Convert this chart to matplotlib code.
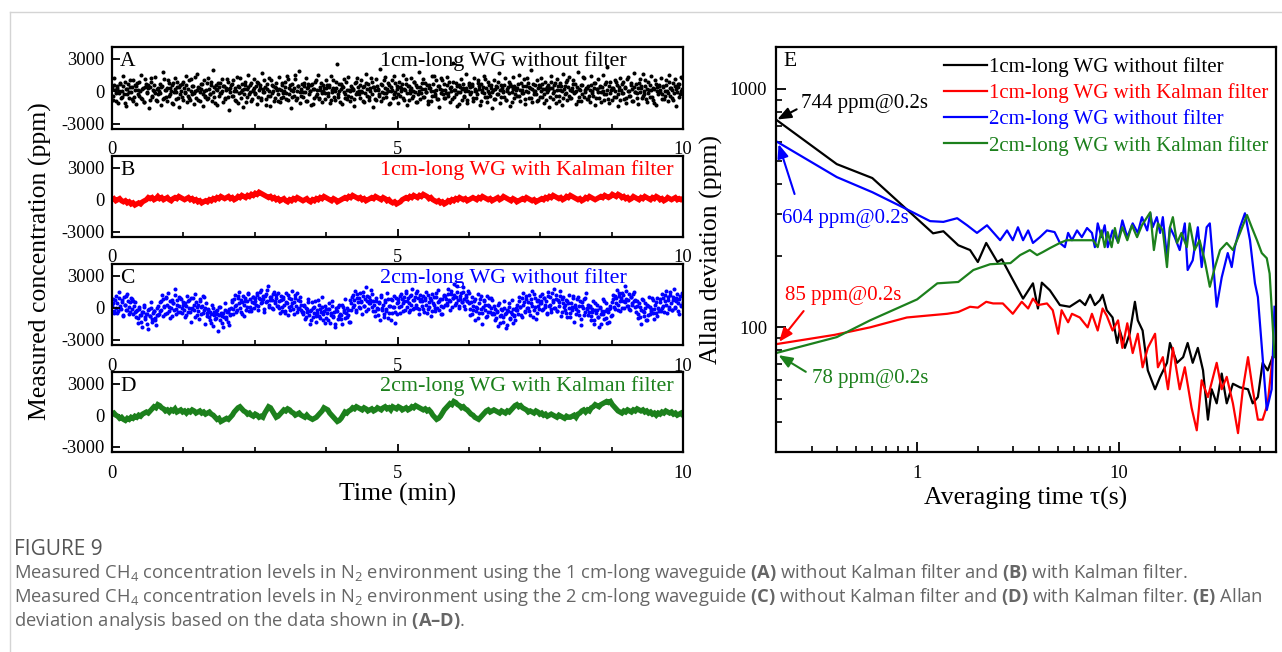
import numpy as np
import matplotlib
matplotlib.use('Agg')
import matplotlib.pyplot as plt
from matplotlib.ticker import MultipleLocator, FuncFormatter, LogLocator, NullFormatter
from matplotlib.lines import Line2D

plt.rcParams['font.family'] = 'Liberation Serif'
plt.rcParams['axes.unicode_minus'] = False
plt.rcParams['mathtext.fontset'] = 'custom'
plt.rcParams['mathtext.rm'] = 'Open Sans'
plt.rcParams['mathtext.bf'] = 'Open Sans:bold'

W, H = 1282, 652
GREEN = '#1c801c'

# ---- panel A : 1cm WG without filter (x100 ppm), two interleaved sample sets ----
conc_a = [
    3, -8, 12, -2, 5, -11, 0, 7, -5, 14, -3, 9, -14, 2, -6, 10, -1, 4, -9, 6,
    -12, 8, 1, -4, 15, -7, 3, -10, 11, -2, 6, -16, 4, 9, -5, 0, 13, -8, 2, -3,
    7, -13, 5, 18, -6, 1, -9, 10, -4, 3, -11, 8, -1, 12, -7, 4, -15, 6, 0, -5,
    9, -2, 14, -10, 2, -6, 11, -3, 5, -12, 0, 16, -8, 3, -1, 7, -14, 10, -4, 1,
    -7, 12, -3, 6, -9, 20, -5, 2, -13, 8, 4, -2, 11, -10, 5, -6, 1, 9, -17, 3,
    6, -4, 10, -8, 0, 13, -11, 4, -1, 7, -15, 2, 9, -5, 15, -3, 6, -9, 1, 11,
    -2, 5, -12, 8, 3, -6, 17, -1, 10, -7, 2, -4, 12, -14, 6, 0, -9, 4, 8, -3,
    13, -10, 1, 6, -5, 9, -2, 14, -8, 3, -16, 7, 0, -4, 11, -6, 5, 19, -11, 2,
    -5, 8, -1, 12, -9, 4, 0, -13, 7, 2, -6, 10, -3, 15, -7, 1, -10, 6, 3, -2,
    10, -4, 6, -11, 14, -1, 3, -8, 9, 25, -5, 0, 7, -12, 4, 11, -3, -7, 13, 1,
    -9, 5, 2, -14, 8, -3, 12, 0, -6, 10, -1, 4, -10, 16, -4, 7, -8, 3, 9, -15,
    4, -7, 11, 1, -3, 21, -9, 6, -2, 13, -5, 2, 8, -12, 0, 10, -6, 14, -1, 5,
    -11, 9, -4, 3, 15, -8, 1, 7, -13, 5, -2, 12, -6, 0, 9, -10, 4, -3, 18, -7,
    2, 11, -5, 8, -1, -12, 6, 3, -9, 14, 0, -4, 10, -7, 5, -15, 12, 1, -3, 7,
    -6, 13, -2, 9, -10, 4, 26, -5, 1, 8, -14, 6, -1, 11, -8, 3, -4, 16, -11, 0,
    8, -3, 5, -9, 12, 0, -6, 10, 2, -13, 7, -1, 14, -5, 3, -10, 9, -2, 6, -16,
    1, 10, -7, 4, -3, 17, -11, 6, 0, -5, 12, -8, 2, 9, -14, 5, -1, 13, -6, 3,
    -4, 7, 15, -9, 1, -2, 11, -12, 5, 8, -6, 3, 20, -10, 0, 6, -3, 10, -8, 4,
    12, -5, 2, -11, 9, -1, 6, -15, 3, 14, -7, 0, 8, -4, 11, -9, 1, 5, -13, 16,
    -3, 9, -8, 4, 13, -6, 0, 10, -2, 7, -12, 18, -5, 1, -9, 6, 12, -1, 3, -7,
    5, -10, 14, 0, -4, 8, -13, 2, 11, -6, 4, -1, 15, -8, 7, -3, 22, -11, 9, 1,
    -8, 3, 10, -5, 6, -14, 1, 12, -2, 9, -7, 4, -11, 13, 0, -4, 8, -9, 17, -1,
    7, -2, -12, 11, 3, -6, 16, -3, 5, -10, 9, 1, -5, 14, -8, 2, 10, -13, 4, 6,
    -1, 12, -7, 5, -4, 10, 0, -9, 15, 3, -6, 8, -2, 11, -14, 4, 7, -3, 13, 2,
]
conc_a2 = [
    -4, 6, 1, -9, 3, -2, 8, -6, 0, 5, -11, 2, -3, 7, -1, 4, -7, 10, -5, 1,
    5, -3, 9, 0, -6, 2, -10, 4, 7, -1, 3, -8, 12, -4, 1, 6, -2, -9, 3, 0,
    -2, 4, -7, 11, 1, -5, 3, 8, -3, 0, 6, -12, 2, -1, 9, -6, 4, -3, 7, -8,
    3, -1, 6, -4, 10, -8, 0, 5, -2, 13, -6, 1, 4, -9, 2, 7, -3, 0, -5, 8,
    -6, 2, -3, 9, -1, 4, -11, 6, 1, -4, 8, -2, 0, 5, -7, 3, 11, -5, 2, -1,
    7, -4, 0, 3, -9, 5, -2, 12, -6, 1, -3, 6, -10, 2, 4, -1, 8, -7, 0, 3,
    -3, 9, -5, 1, 6, -8, 2, -1, 4, -13, 7, 0, -4, 10, -2, 5, -6, 3, 1, -9,
    2, -6, 8, -2, 0, 4, -7, 11, -3, 6, 1, -5, 3, 15, -8, 0, 5, -1, -4, 7,
    -1, 5, -9, 3, 7, -3, 0, 6, -12, 2, 9, -4, 1, -6, 4, 8, -2, 0, -7, 3,
    6, -2, 4, -8, 1, 10, -5, 0, 3, -3, 7, -10, 2, 5, -1, -6, 9, 1, -4, 0,
    -5, 3, 1, -7, 9, -1, 4, -3, 6, 0, -9, 5, -2, 8, 2, -5, 0, 12, -3, 4,
    1, -8, 5, 2, -4, 7, -1, -6, 10, 3, -2, 0, 6, -11, 4, 1, -3, 8, -5, 2,
    -3, 4, 0, 7, -6, 2, 11, -2, 5, -8, 1, 3, -4, 9, -1, 6, -10, 0, 4, -2,
    8, -5, 2, -1, 6, -9, 3, 0, -4, 7, 14, -3, 1, -7, 5, 2, -2, 10, -6, 1,
    -2, 6, -4, 3, 0, -7, 9, 1, -3, 5, -1, -12, 4, 2, 7, -5, 0, 3, -8, 6,
    4, -1, 7, -6, 2, 0, -3, 8, 5, -9, 1, 4, -2, 11, -5, 0, 6, -4, 3, -1,
    -7, 2, 5, -3, 9, 1, -5, 3, -1, 6, -8, 0, 4, -2, 7, -10, 2, 5, -3, 1,
    3, -4, 1, 8, -2, 5, -7, 0, 12, -1, 4, -6, 2, 7, -3, 0, -9, 3, 6, -5,
    0, 7, -3, 2, -8, 4, 1, -5, 9, 3, -2, 6, -11, 1, 5, -4, 8, 0, -6, 2,
    5, -2, 10, -4, 1, -6, 3, 7, -1, 0, 4, -9, 2, 6, -3, 13, -5, 1, 3, -7,
    -4, 1, 6, -2, 3, 8, -6, 2, -1, 5, -10, 4, 0, -3, 9, 1, -7, 5, -2, 3,
    2, -5, 0, 9, -3, 4, -8, 1, 7, -2, 3, -6, 11, 0, -4, 6, 2, -9, 4, -1,
    -6, 3, 8, -1, 5, -4, 0, 10, -7, 2, -2, 6, 1, -5, 3, -11, 7, 0, -3, 5,
    1, -3, 4, -7, 0, 6, -2, 9, -4, 3, 1, -8, 5, 2, -1, 7, -5, 0, 12, -2,
]

# ---- panel B : 1cm WG with Kalman filter (x100 ppm) ----
conc_b = [
    0, 1, -1, 0, 1, -1, -2, -1, -3, -2, -4, -3, -5, -4, -3, -4, -2, -1, 0, 2,
    1, 2, 0, 1, 3, 1, 2, 0, 1, 2, 0, -1, 1, 2, 1, 3, 2, 1, 0, 1,
    2, 0, 1, -1, 0, -2, -1, -3, -2, -1, -2, 0, -1, 1, 0, 2, 1, 3, 2, 1,
    2, 3, 1, 2, 0, 1, 3, 2, 4, 3, 2, 4, 3, 5, 4, 6, 5, 7, 6, 5,
    4, 3, 2, 3, 1, 2, 0, 1, -1, 0, 1, -1, -2, 0, -1, 1, 0, 2, 1, 0,
    -1, 0, 1, -1, -2, 0, -1, 1, 0, 2, 1, 3, 2, 1, 0, -1, 1, 0, -2, -1,
    0, 1, 2, 1, 3, 2, 4, 3, 2, 1, 2, 0, 1, -1, 0, 1, 2, 1, 3, 2,
    1, 0, 2, 1, -1, 0, -2, -3, -2, -4, -3, -2, 0, 1, 2, 1, 3, 2, 4, 3,
    2, 4, 3, 5, 4, 3, 1, 2, 0, -1, -2, -1, -3, -2, -4, -3, -1, -2, 0, -1,
    1, 0, 2, 1, 0, 1, -1, 0, 1, 2, 1, 0, 2, 1, 3, 2, 1, 0, 1, -1,
    0, 1, 2, 0, 1, 3, 2, 1, 0, -1, 1, 0, -2, -1, 0, 1, 0, 2, 1, 0,
    -1, 0, -2, -1, 0, 1, 0, 2, 1, 3, 2, 4, 3, 2, 1, 2, 0, 1, 3, 2,
    4, 3, 2, 1, 0, 1, -1, 0, 2, 1, 3, 2, 1, 0, 1, 2, 3, 2, 4, 3,
    2, 3, 5, 4, 3, 5, 4, 2, 3, 1, 2, 0, 1, 3, 2, 1, 0, 2, 1, 3,
    2, 1, 0, 2, 1, 3, 2, 0, 1, -1, 0, 2, 1, 0, 1, 2, 0, 1, 0, 1,
]

# ---- panel C : 2cm WG without filter (x100 ppm), two interleaved sample sets ----
conc_c = [
    2, 8, -5, 11, 4, -3, 15, 0, 7, -8, 10, 3, -2, 13, -6, 5, 9, -1, 6, -4,
    -9, -2, -14, 1, -7, -18, -4, 3, -11, -6, -20, -1, -8, 5, -13, -3, -10, -16, 0, -7,
    -3, 6, 12, -8, 2, 9, -5, 14, 1, -10, 7, 4, -2, 18, -6, 3, 10, -4, 8, 0,
    5, -9, 2, 11, -4, 7, -13, 0, 9, -2, 13, -7, 3, -11, 6, 1, -5, 10, -15, 4,
    -8, -1, -12, -6, 3, -17, -4, -10, -2, -22, -7, 1, -14, -5, -9, 4, -11, -3, -16, -6,
    0, 7, -6, 12, 3, -2, 9, 15, -4, 5, 11, -8, 6, 1, 14, -3, 8, -1, 10, 4,
    9, 3, 14, -2, 8, 17, 5, 11, -4, 13, 6, 20, 1, 10, 7, -1, 15, 4, 12, 2,
    6, -5, 11, 1, 8, -3, 14, 4, -7, 9, 2, 16, -1, 5, 12, -4, 7, 0, 10, -2,
    -6, 3, -11, 0, -4, 8, -15, -2, 5, -9, 1, -13, -5, 7, -8, -1, 10, -12, -3, 2,
    -10, -1, 4, -14, -5, 6, -8, -18, 0, -3, -11, 3, -7, -15, 1, -4, 8, -9, -2, -13,
    7, -2, 12, 3, 16, -4, 9, 1, 14, 5, -6, 11, 2, 19, 6, -1, 10, 4, 13, -3,
    3, -8, 9, -1, 5, -12, 12, 0, -6, 7, -3, 14, -10, 2, 8, -5, 1, 11, -14, 4,
    8, 1, -5, 13, 4, 10, -2, 16, 6, -4, 11, 3, 18, -1, 7, 14, 0, 9, -6, 12,
    2, 11, -4, 7, 15, -1, 5, 9, -8, 13, 3, -3, 10, 0, 17, 6, -6, 8, 1, 12,
    11, 4, 18, 7, -2, 13, 9, 22, 3, 10, 15, 0, 8, 14, 5, 19, 2, 12, 6, 16,
    4, -7, 10, -2, 6, -12, 1, 13, -5, 8, -1, -15, 7, 3, -9, 11, -4, 2, 9, -6,
    -5, 2, -12, -3, -17, 4, -8, -1, -13, 6, -6, -19, -2, 1, -10, -4, 7, -14, -7, 0,
    3, -6, 10, 1, -9, 14, 5, -3, 8, 0, 12, -7, 4, 16, -2, 9, -11, 6, 2, 11,
    6, 13, -1, 9, 3, -6, 15, 2, 10, -4, 7, 18, 0, 12, -3, 5, 11, -8, 8, 4,
    -2, 7, -9, 4, 12, -5, 1, 9, -13, 3, -1, 10, -7, 6, -16, 2, 8, -4, 14, 0,
    -7, 1, -12, -4, 6, -15, -2, 3, -9, -18, 0, -6, 8, -11, -3, 4, -14, -1, 2, -8,
    5, 12, -1, 9, 17, 3, 11, -3, 14, 6, 0, 20, 8, 2, 13, -2, 10, 4, 15, 7,
    -4, 6, -10, 1, -15, 8, -3, -8, 4, -12, 2, 10, -6, -1, 7, -11, 3, -5, 9, -2,
    8, -3, 13, 2, 6, 16, -5, 10, 1, 12, -2, 7, 18, 0, 9, 4, -6, 11, 3, 14,
]
conc_c2 = [
    4, -3, 7, 0, -5, 9, 2, -1, 5, -7, 3, 11, -2, 6, 1, -4, 8, -6, 2, 5,
    -3, -10, -1, -7, -13, -4, 1, -9, -6, -15, -2, -8, 0, -11, -5, -3, -12, -7, 2, -6,
    5, -2, 8, 1, -6, 10, 3, -3, 6, 0, -8, 4, 12, -1, 7, -4, 2, 9, -5, 3,
    -2, 4, -7, 6, 0, -4, 9, -1, 3, -9, 5, 1, -3, 8, -6, 2, 11, -2, 0, -5,
    -2, -9, -4, -14, 0, -7, -11, -3, -6, 1, -12, -5, -8, -18, -2, -9, -4, -13, -1, -7,
    5, -1, 8, 2, -4, 11, 4, 0, 7, -6, 3, 9, -2, 6, 13, 1, -3, 5, 10, 0,
    6, 12, 2, 9, 15, 4, 8, -1, 11, 5, 17, 3, 7, 10, 0, 13, 6, 9, 2, 14,
    0, 7, -3, 10, 3, -5, 5, 12, 1, -2, 8, 4, -6, 9, 2, 14, -1, 6, 3, -4,
    -4, 2, -9, -1, 5, -7, -3, -12, 0, -5, 6, -8, -2, 3, -10, -4, 1, -6, -14, -1,
    -5, -12, -1, -7, 2, -9, -4, -15, -3, 1, -8, -6, -11, 3, -2, -10, -5, 0, -7, -13,
    4, 10, 1, 7, -2, 13, 5, 9, 0, 6, 15, 2, 8, -3, 11, 4, 7, 17, 1, 6,
    -3, 6, 0, -7, 4, 10, -2, 3, -9, 5, -1, 8, -5, 2, -12, 7, 1, -4, 9, -6,
    5, 11, 2, 8, -3, 6, 14, 1, 9, 4, -2, 12, 7, 0, 10, 3, 16, -1, 6, 8,
    6, -1, 9, 3, -5, 12, 1, 7, -3, 4, 10, 0, 14, 5, -2, 8, 2, -6, 11, 3,
    8, 3, 13, 6, 16, 1, 9, 12, 4, 20, 7, 2, 11, 5, 15, 8, -1, 10, 6, 14,
    -1, 5, -6, 2, 8, -3, 0, -10, 4, 11, -5, 1, 6, -2, -8, 3, 9, -4, 0, 7,
    -6, -1, -10, -4, 3, -14, -7, -2, -9, 0, -5, -16, -3, 4, -11, -6, -1, -8, -12, -2,
    -2, 6, 1, -7, 9, 3, -4, 11, 0, 5, -3, 8, 2, -9, 13, 1, -5, 7, -1, 4,
    4, -2, 9, 1, 6, -5, 11, 3, -1, 14, 5, 0, 8, -3, 7, 2, 16, -4, 10, 1,
    3, -5, 6, 0, -9, 4, -2, 11, 1, -6, 8, -3, 2, -11, 5, 0, -7, 9, -1, 3,
    -4, 2, -8, -1, -12, 4, -5, -2, -9, 1, -15, -3, -6, 6, -10, -1, -4, -13, 0, -7,
    8, 1, 11, 4, -2, 14, 6, 9, 0, 12, 5, 16, 2, 7, -1, 10, 3, 13, 6, 1,
    2, -6, 4, -9, -2, 7, -4, 0, -12, 3, -7, 1, -3, 9, -5, -1, 5, -8, 0, -3,
    5, 0, 9, -4, 12, 3, 7, -1, 15, 4, -2, 10, 1, 6, 13, -3, 8, 2, 11, 5,
]

# ---- panel D : 2cm WG with Kalman filter (x100 ppm) ----
conc_d = [
    1, 2, 0, -1, -3, -2, -4, -5, -3, -4, -2, -3, -1, -2, 0, -1, 1, 2, 3, 2,
    4, 6, 8, 7, 10, 9, 7, 6, 4, 5, 3, 5, 4, 6, 3, 4, 5, 3, 4, 2,
    4, 3, 5, 4, 2, 3, 4, 2, 3, 1, 2, 3, 1, 0, -2, -4, -3, -6, -5, -4,
    -3, -4, -2, 0, 3, 5, 7, 8, 6, 4, 3, 1, 2, 0, -1, 1, 0, -2, -1, -2,
    2, 5, 8, 7, 4, 1, -2, -1, 1, 3, 5, 4, 6, 5, 3, 2, 0, 1, 2, 0,
    -1, -2, 0, -2, -3, -4, -3, -2, 0, 2, 4, 7, 6, 5, 2, 0, -2, -4, -6, -5,
    -3, 0, 3, 2, 4, 5, 7, 6, 8, 7, 6, 5, 7, 6, 4, 5, 6, 4, 5, 7,
    6, 5, 7, 8, 6, 7, 5, 8, 7, 6, 8, 7, 5, 6, 7, 5, 6, 8, 7, 9,
    8, 7, 6, 5, 6, 4, 5, 3, 0, -2, -4, -3, -1, 2, 5, 7, 9, 11, 10, 13,
    12, 10, 9, 7, 8, 6, 5, 3, 1, 0, -2, -3, -4, -2, 0, 2, 4, 5, 3, 4,
    5, 4, 3, 2, 4, 3, 2, 4, 3, 5, 7, 9, 10, 8, 9, 7, 6, 5, 3, 4,
    3, 2, 4, 3, 1, 2, 0, 1, -1, 0, 1, 0, -1, -2, 0, -1, -2, -3, -1, -2,
    -2, -1, 0, -2, 1, 2, 4, 5, 3, 5, 4, 7, 8, 10, 9, 8, 10, 11, 12, 13,
    12, 13, 10, 8, 6, 4, 3, 2, 4, 3, 5, 4, 3, 5, 4, 6, 5, 4, 5, 3,
    4, 2, 3, 1, 2, 0, 2, 1, 3, 2, 4, 3, 2, 3, 1, 2, 0, 1, 2, 0,
]

# ---- panel E : Allan deviation ----
tau_k = [0.2, 0.4, 0.6, 1.2, 1.35, 1.6, 1.83, 2.0, 2.2, 2.5, 2.63, 2.95, 3.35, 3.75,
         3.97, 4.15, 4.55, 5.1, 5.7, 6.4, 6.8, 7.2, 7.6, 8.05, 8.3, 8.7, 9.3, 9.8,
         10.1, 10.7, 11.3, 12.0, 12.4, 13.1, 13.9, 15.1, 16.0, 17.3, 17.9, 19.4,
         20.8, 21.9, 23.2, 24.6, 26.1, 27.6, 28.8, 30.5, 32.3, 34.2, 36.7, 39.8,
         43.6, 46.0, 48.8, 51.5, 54.6, 57.7]
adev_k = [744, 484, 423, 248, 253, 221, 211, 188, 226, 188, 193, 161, 132, 153,
          120, 154, 143, 124, 122, 130, 124, 137, 124, 130, 137, 118, 110, 86,
          97, 82, 94, 128, 107, 97, 66, 55, 62, 71, 86, 71,
          75, 86, 71, 82, 66, 41, 55, 48, 64, 48, 58, 56,
          55, 48, 51, 71, 66, 75]

tau_r = [0.2, 0.39, 0.585, 0.89, 1.12, 1.41, 1.6, 1.83, 2.0, 2.2, 2.38, 2.66, 2.98,
         3.3, 3.55, 3.75, 3.97, 4.4, 4.7, 5.0, 5.2, 5.6, 5.85, 6.4, 7.0, 7.35, 7.85,
         8.3, 8.7, 9.3, 9.9, 10.4, 11.0, 11.7, 12.4, 13.1, 13.9, 15.1, 15.6, 16.5,
         17.5, 18.5, 20.0, 21.2, 22.9, 24.3, 25.7, 27.6, 30.5, 32.3, 34.2, 36.7,
         38.9, 41.1, 43.6, 46.0, 48.8, 51.5, 54.6, 57.7]
adev_r = [85, 93, 100, 110, 112, 114, 116, 122, 121, 128, 126, 126, 114,
          128, 120, 132, 124, 126, 118, 94, 118, 105, 114, 110, 100, 114, 97,
          120, 112, 97, 107, 82, 104, 78, 94, 68, 82, 94, 68, 75,
          55, 82, 55, 68, 46, 37, 60, 51, 71, 55, 62, 48,
          36, 55, 75, 55, 41, 41, 48, 75]

tau_b = [0.2, 0.4, 0.6, 0.85, 1.16, 1.35, 1.58, 1.77, 1.98, 2.22, 2.58, 2.79, 2.98,
         3.16, 3.35, 3.55, 3.75, 4.06, 4.4, 4.8, 5.1, 5.4, 5.6, 5.85, 6.2, 6.55,
         6.95, 7.35, 7.6, 7.85, 8.2, 8.5, 8.8, 9.3, 9.9, 10.4, 11.0, 11.7, 12.4,
         13.0, 13.8, 14.3, 14.7, 15.4, 16.0, 16.5, 17.3, 17.9, 18.9, 20.0, 21.2,
         21.9, 23.2, 24.6, 25.7, 27.2, 28.2, 30.5, 32.3, 34.6, 36.2, 37.5, 39.8,
         42.1, 44.6, 47.2, 48.8, 51.5, 54.0, 57.1, 59]
adev_b = [604, 427, 369, 319, 279, 277, 287, 268, 249, 268, 232, 255, 232,
          263, 232, 255, 226, 239, 255, 251, 226, 217, 249, 232, 255, 239,
          261, 249, 217, 273, 239, 268, 217, 255, 228, 281, 239, 273, 249,
          290, 255, 301, 263, 290, 249, 290, 197, 263, 239, 211, 273,
          174, 191, 263, 179, 263, 273, 122, 162, 205, 179, 217, 263,
          301, 232, 153, 134, 75, 45, 55, 122]

tau_g = [0.2, 0.4, 0.585, 1.0, 1.26, 1.6, 1.9, 2.3, 2.9, 3.24, 3.62, 3.93, 4.2,
         4.55, 5.1, 5.5, 6.2, 6.95, 7.45, 7.85, 8.2, 8.5, 8.8, 9.2, 9.55, 9.9,
         10.4, 11.0, 11.6, 12.3, 13.0, 13.8, 14.3, 14.9, 15.6, 16.5, 17.3, 17.9,
         18.5, 19.4, 20.4, 21.7, 22.4, 23.7, 25.1, 26.6, 28.2, 29.9, 31.7, 34.2,
         36.7, 39.8, 43.1, 45.5, 48.3, 51.0, 54.0, 55.8, 57.7, 59]
adev_g = [78, 91, 107, 131, 153, 155, 174, 184, 186, 201, 211, 201, 207,
          215, 226, 232, 232, 232, 232, 217, 255, 217, 251, 217, 261, 226,
          263, 232, 268, 239, 268, 290, 304, 211, 273, 255, 179, 263,
          290, 226, 249, 217, 273, 211, 232, 191, 148, 179, 211, 226,
          211, 249, 296, 263, 232, 205, 195, 168, 104, 75]

series_names = ['1cm-long WG without filter', '1cm-long WG with Kalman filter',
                '2cm-long WG without filter', '2cm-long WG with Kalman filter']
series_colors = ['black', 'red', 'blue', GREEN]

fig = plt.figure(figsize=(12.82, 6.52), dpi=100)


def px_axes(x0, y0, x1, y1):
    return fig.add_axes([x0 / W, 1 - y1 / H, (x1 - x0) / W, (y1 - y0) / H])


def interleave(v1, v2):
    return np.column_stack((v1, v2)).ravel()


# left stacked panels
panels = [
    (47, 129, 'A', interleave(conc_a, conc_a2), 'scatter', 0),
    (156, 237, 'B', np.array(conc_b), 'line', 1),
    (264, 345, 'C', interleave(conc_c, conc_c2), 'scatter', 2),
    (372, 452, 'D', np.array(conc_d), 'line', 3),
]
for top, bot, letter, vals, kind, k in panels:
    ax = px_axes(112, top, 683, bot)
    col = series_colors[k]
    t = np.linspace(0, 10, len(vals))
    y = vals * 100.0
    if kind == 'scatter':
        ax.scatter(t, y, s=8.5, color=col, linewidths=0)
    else:
        ax.plot(t, y, color=col, lw=3.8, solid_joinstyle='miter')
    ax.set_xlim(0, 10)
    ax.set_ylim(-3500, 4100)
    ax.set_yticks([-3000, 0, 3000])
    ax.set_xticks([0, 5, 10])
    ax.xaxis.set_minor_locator(MultipleLocator(1.25))
    ax.tick_params(which='major', direction='in', length=6, width=1.3, labelsize=13.3)
    ax.tick_params(which='minor', direction='in', length=3.5, width=1.2)
    ax.tick_params(axis='x', pad=9)
    ax.tick_params(axis='y', pad=5.5)
    for s in ax.spines.values():
        s.set_linewidth(1.6)
    ax.text(0.014, 0.82, letter, transform=ax.transAxes, fontsize=15.5,
            ha='left', va='center')
    ax.text(0.4695, 0.83, series_names[k], transform=ax.transAxes, fontsize=15.8,
            color=col, ha='left', va='center')

fig.text(40 / W, 1 - 261 / H, 'Measured concentration (ppm)', rotation=90,
         fontsize=18.5, ha='center', va='center')
fig.text(398 / W, 1 - 494 / H, 'Time (min)', fontsize=18.5, ha='center', va='center')

# Allan deviation panel
axe = px_axes(776, 47, 1276, 452)
for tt, aa, col, name in zip([tau_k, tau_r, tau_b, tau_g], [adev_k, adev_r, adev_b, adev_g],
                             series_colors, series_names):
    axe.plot(tt, aa, color=col, lw=1.6, label=name)
axe.set_xscale('log')
axe.set_yscale('log')
axe.set_xlim(0.2, 60)
axe.set_ylim(30, 1500)
axe.xaxis.set_major_locator(LogLocator(base=10))
axe.xaxis.set_minor_locator(LogLocator(base=10, subs=np.arange(2, 10)))
axe.yaxis.set_major_locator(LogLocator(base=10))
axe.yaxis.set_minor_locator(LogLocator(base=10, subs=np.arange(2, 10)))
fmt = FuncFormatter(lambda v, p: '%g' % v)
axe.xaxis.set_major_formatter(fmt)
axe.yaxis.set_major_formatter(fmt)
axe.xaxis.set_minor_formatter(NullFormatter())
axe.yaxis.set_minor_formatter(NullFormatter())
axe.tick_params(which='major', direction='in', length=7, width=1.3, labelsize=13.3)
axe.tick_params(which='minor', direction='in', length=4, width=1.2)
axe.tick_params(axis='x', pad=9)
axe.tick_params(axis='y', pad=6.5)
for s in axe.spines.values():
    s.set_linewidth(1.6)
axe.set_xlabel('Averaging time τ(s)', fontsize=18.5, labelpad=4)
axe.set_ylabel('Allan deviation (ppm)', fontsize=18.5, labelpad=5)
axe.text(0.014, 0.965, 'E', transform=axe.transAxes, fontsize=15.5, ha='left', va='center')
axe.legend(loc='upper left', bbox_to_anchor=(0.336, 0.975), frameon=False,
           fontsize=15, labelcolor='linecolor', handlelength=2.05, handletextpad=0.1,
           labelspacing=0.30, borderpad=0, borderaxespad=0)

arrow = dict(arrowstyle='-|>,head_length=0.55,head_width=0.22', lw=1.5, shrinkA=1, shrinkB=1)
axe.annotate('744 ppm@0.2s', xy=(0.2, 740), xytext=(0.265, 870), fontsize=15,
             ha='left', va='center', color='black',
             arrowprops=dict(arrow, color='black', relpos=(0.0, 0.3)))
axe.annotate('604 ppm@0.2s', xy=(0.205, 595), xytext=(0.213, 287), fontsize=15,
             ha='left', va='center', color='blue',
             arrowprops=dict(arrow, color='blue', relpos=(0.14, 1.0), shrinkA=9))
axe.annotate('85 ppm@0.2s', xy=(0.205, 86), xytext=(0.222, 136), fontsize=15,
             ha='left', va='center', color='red',
             arrowprops=dict(arrow, color='red', relpos=(0.2, 0.0), shrinkA=3))
axe.annotate('78 ppm@0.2s', xy=(0.203, 77), xytext=(0.302, 61), fontsize=15,
             ha='left', va='center', color=GREEN,
             arrowprops=dict(arrow, color=GREEN, relpos=(0.0, 0.65), shrinkA=3))

# thin page frame
fig.add_artist(Line2D([10 / W, 10 / W], [0, 1 - 12 / H], transform=fig.transFigure,
                      color='#d4d4d4', lw=1))
fig.add_artist(Line2D([10 / W, 1], [1 - 12 / H, 1 - 12 / H], transform=fig.transFigure,
                      color='#d4d4d4', lw=1))

# caption
cap_font = 'Open Sans'
cap_color = '#666666'
fig.text(14 / W, 1 - 555 / H, 'FIGURE 9', family=cap_font, fontsize=15,
         color='#555555', va='baseline')
cap_lines = [
    r'Measured CH$_4$ concentration levels in N$_2$ environment using the 1 cm-long waveguide '
    r'$\mathbf{(A)}$ without Kalman filter and $\mathbf{(B)}$ with Kalman filter.',
    r'Measured CH$_4$ concentration levels in N$_2$ environment using the 2 cm-long waveguide '
    r'$\mathbf{(C)}$ without Kalman filter and $\mathbf{(D)}$ with Kalman filter. $\mathbf{(E)}$ Allan',
    'deviation analysis based on the data shown in $\\mathbf{(A\u2013D)}$.',
]
for i, line in enumerate(cap_lines):
    fig.text(14 / W, 1 - (578 + 24 * i) / H, line, family=cap_font, fontsize=13.2,
             color=cap_color, va='baseline')

fig.savefig('out.png', dpi=100)
